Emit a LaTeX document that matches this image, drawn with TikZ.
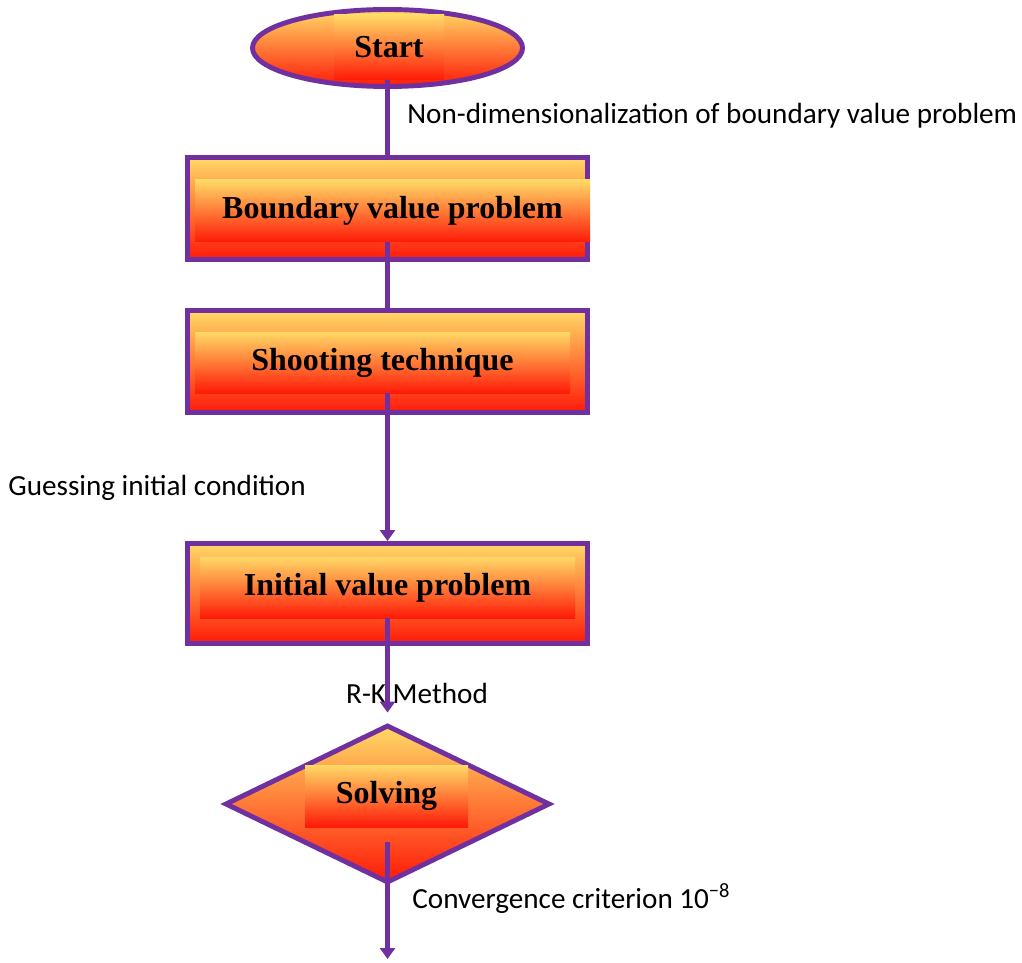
\documentclass[tikz,border=0pt]{standalone}
\usepackage{fontspec}
\setmainfont{Liberation Serif}
\newfontfamily\lblfont{Carlito}
\usetikzlibrary{arrows.meta,shapes.geometric}
\definecolor{fcpurple}{HTML}{7030A0}
\definecolor{fcgold}{HTML}{FFD966}
\definecolor{fcamber}{HTML}{FFBA62}
\definecolor{fcred}{HTML}{FF1A08}
\tikzset{
  warm/.style={top color=fcgold, middle color=fcamber, bottom color=fcred},
  frame/.style={warm, draw=fcpurple, line width=2.8pt, inner sep=0pt},
  termbox/.style={frame, ellipse, minimum width=5.4cm, minimum height=1.54cm},
  procbox/.style={frame, rectangle, minimum width=8cm, minimum height=2.04cm},
  decbox/.style={frame, diamond, minimum width=6.5cm, minimum height=3.16cm},
  tag/.style={warm, inner sep=0pt, font=\bfseries\fontsize{18.2}{22}\selectfont},
  conn/.style={draw=fcpurple, line width=2.8pt},
  arr/.style={conn, -{Triangle[length=2.2mm, width=3mm]}},
  lbl/.style={font=\lblfont\fontsize{16.6}{20}\selectfont, inner sep=0pt},
}
\begin{document}
\begin{tikzpicture}
    \useasboundingbox (0,0) rectangle (20.44,19.24);
    \node[termbox] (start) at (7.75,18.28) {};
    \node[procbox] (bvp) at (7.75,15.07) {};
    \node[procbox] (sh) at (7.75,12.01) {};
    \node[procbox, minimum height=2cm] (ivp) at (7.75,7.37) {};
    \node[decbox] (sol) at (7.75,3.16) {};
    \node[tag, minimum width=2.2cm, minimum height=1.3cm] (startt) at (7.78,18.29) {Start};
    \node[tag, minimum width=7.9cm, minimum height=1.24cm] (bvpt) at (7.85,15.02) {Boundary value problem};
    \node[tag, minimum width=7.5cm, minimum height=1.22cm] (sht) at (7.65,11.99) {Shooting technique};
    \node[tag, minimum width=7.5cm, minimum height=1.22cm] (ivpt) at (7.75,7.49) {Initial value problem};
    \node[tag, minimum width=3.26cm, minimum height=1.24cm] (solt) at (7.73,3.32) {Solving};
    \node[lbl, anchor=west] (nd) at (8.14,16.92) {Non-dimensionalization of boundary value problem};
    \node[lbl, anchor=west] (gic) at (0.16,9.48) {Guessing initial condition};
    \node[lbl] (rk) at (8.34,5.38) {R-K Method};
    \node[lbl, anchor=west] (cc) at (8.24,1.26) {Convergence criterion 10\textsuperscript{\char"2212 8}};
    \coordinate (fin) at (7.75,0.06);
    \draw[conn] (start.center |- startt.south) -- (bvp.north);
    \draw[conn] (bvp.center |- bvpt.south) -- (sh.north);
    \draw[arr] (sh.center |- sht.south) -- (ivp.north);
    \draw[arr, shorten >=0.2cm] (ivp.center |- ivpt.south) -- (sol.north);
    \draw[arr, shorten <=0.3cm] (sol.center |- solt.south) -- (fin);
\end{tikzpicture}
\end{document}
